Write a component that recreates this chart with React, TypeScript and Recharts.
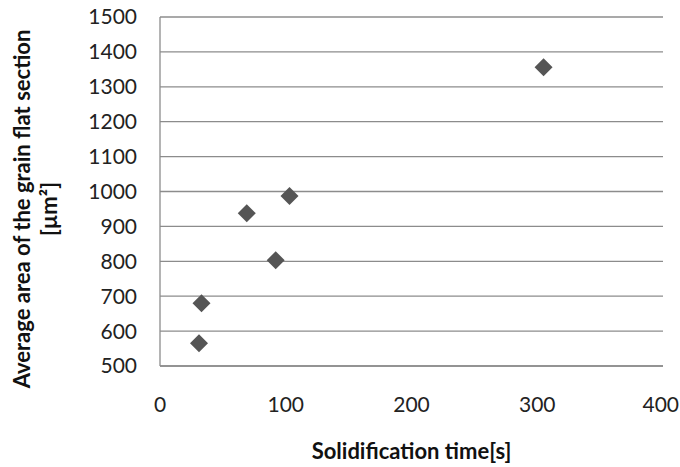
import { ScatterChart, Scatter, XAxis, YAxis, CartesianGrid, Label } from "recharts"

// values
const solidificationTimes = [31, 33, 69, 92, 103, 305]
const grainAreas = [565, 680, 938, 803, 987, 1356]
const xTicks = [0, 100, 200, 300, 400]
const yTicks = [500, 600, 700, 800, 900, 1000, 1100, 1200, 1300, 1400, 1500]

const chartData = solidificationTimes.map((time, i) => ({ time, area: grainAreas[i] }))

const FONT = "Lato, 'Open Sans', sans-serif"
const GRID = "#8c8c8c"
const TICK_SIZE = 21

function Diamond(props: any) {
  const { cx, cy } = props
  if (cx == null || cy == null) return null
  const r = 9
  return (
    <polygon
      points={`${cx},${cy - r} ${cx + r},${cy} ${cx},${cy + r} ${cx - r},${cy}`}
      fill="#555555"
    />
  )
}

// keeps the last label inside the 680px frame
function XTick(props: any) {
  const { x, y, payload } = props
  const half = String(payload.value).length * TICK_SIZE * 0.29
  const tx = Math.min(x, 679 - half)
  return (
    <text
      x={tx}
      y={y}
      dy="0.71em"
      textAnchor="middle"
      fill="#222"
      fontSize={TICK_SIZE}
      fontFamily={FONT}
    >
      {payload.value}
    </text>
  )
}

function YTitle() {
  const cy = 209
  return (
    <g>
      <text
        x={21}
        y={cy}
        transform={`rotate(-90, 21, ${cy})`}
        textAnchor="middle"
        dominantBaseline="central"
        fontFamily={FONT}
        fontWeight={700}
        fontSize={22}
        fill="#111"
      >
        Average area of the grain flat section
      </text>
      <text
        x={48}
        y={cy}
        transform={`rotate(-90, 48, ${cy})`}
        textAnchor="middle"
        dominantBaseline="central"
        fontFamily={FONT}
        fontWeight={700}
        fontSize={22}
        fill="#111"
      >
        [µm²]
      </text>
    </g>
  )
}

export default function App() {
  return (
    <div style={{ position: "absolute", left: 0, top: 0, background: "#fff" }}>
      <ScatterChart
        width={680}
        height={467}
        margin={{ top: 17, right: 17, bottom: 0, left: 0 }}
      >
        <CartesianGrid vertical={false} stroke={GRID} strokeWidth={1.3} />
        <XAxis
          type="number"
          dataKey="time"
          domain={[0, 400]}
          ticks={xTicks}
          height={101}
          tickLine={false}
          tickMargin={25}
          axisLine={{ stroke: GRID, strokeWidth: 1.3 }}
          tick={<XTick />}
        >
          <Label
            value="Solidification time[s]"
            position="insideBottom"
            offset={8}
            fill="#111"
            fontSize={22}
            fontWeight={700}
            fontFamily={FONT}
          />
        </XAxis>
        <YAxis
          type="number"
          dataKey="area"
          domain={[500, 1500]}
          ticks={yTicks}
          width={160}
          tickLine={false}
          tickMargin={17}
          axisLine={{ stroke: GRID, strokeWidth: 1.3 }}
          tick={{ fill: "#222", fontSize: TICK_SIZE, fontFamily: FONT }}
        >
          <Label content={<YTitle />} />
        </YAxis>
        <Scatter data={chartData} shape={<Diamond />} isAnimationActive={false} />
      </ScatterChart>
    </div>
  )
}
